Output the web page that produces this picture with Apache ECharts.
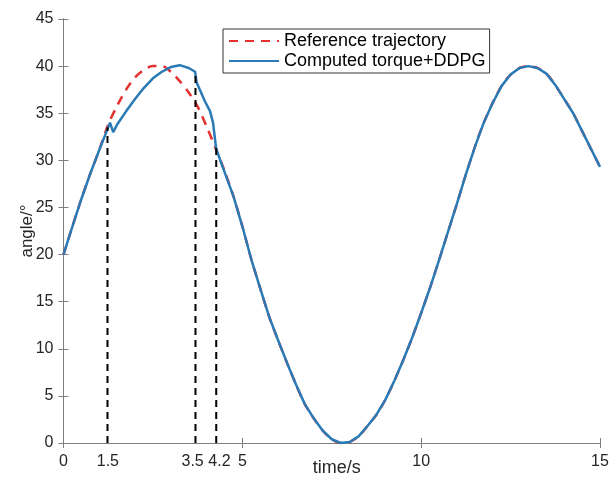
<!DOCTYPE html>
<html lang="en">
<head>
    <meta charset="UTF-8">
    <title>angle tracking</title>
    <script type="text/javascript" src="https://cdn.jsdelivr.net/npm/echarts@6/dist/echarts.min.js"></script>
    <style type="text/css">
        html, body { margin: 0; padding: 0; background: #fff; }
        #chart { width: 611px; height: 477px; }
    </style>
</head>
<body>
<div id="chart"></div>
<script type="text/javascript">
    // reference trajectory, every 0.25 s
    var refTime = [0, 0.25, 0.5, 0.75, 1, 1.25, 1.5, 1.75, 2, 2.25, 2.5, 2.75, 3, 3.25, 3.5, 3.75, 4, 4.25, 4.5, 4.75,
        5, 5.25, 5.5, 5.75, 6, 6.25, 6.5, 6.75, 7, 7.25, 7.5, 7.75, 8, 8.25, 8.5, 8.75, 9, 9.25, 9.5, 9.75,
        10, 10.25, 10.5, 10.75, 11, 11.25, 11.5, 11.75, 12, 12.25, 12.5, 12.75, 13, 13.25, 13.5, 13.75, 14, 14.25, 14.5, 14.75, 15];
    var refAngle = [20, 23.0, 25.9, 28.6, 31.1, 33.8, 35.8, 37.5, 38.8, 39.6, 40.0, 40.0, 39.4, 38.4, 37.2, 35.7, 33.6, 31.3, 28.9, 26.2,
        23.0, 19.5, 16.4, 13.4, 10.9, 8.5, 6.2, 4.1, 2.6, 1.3, 0.4, 0.0, 0.1, 0.7, 1.8, 3.0, 4.6, 6.6, 8.8, 11.2,
        13.8, 16.5, 19.4, 22.4, 25.4, 28.5, 31.4, 34.0, 36.1, 37.9, 39.1, 39.8, 40.0, 39.8, 39.2, 38.0, 36.5, 35.0, 33.1, 31.2, 29.3];

    // computed torque + DDPG response
    var ddpgTime = [0, 0.25, 0.5, 0.75, 1, 1.25, 1.3, 1.39, 1.5, 1.75, 2, 2.25, 2.5, 2.75, 3, 3.25, 3.5, 3.68, 3.72, 3.8,
        3.95, 4.1, 4.18, 4.27, 4.45, 4.75, 5, 5.25, 5.5, 5.75, 6, 6.25, 6.5, 6.75, 7, 7.25, 7.5, 7.75, 8, 8.25,
        8.5, 8.75, 9, 9.25, 9.5, 9.75, 10, 10.25, 10.5, 10.75, 11, 11.25, 11.5, 11.75, 12, 12.25, 12.5, 12.75, 13, 13.25,
        13.5, 13.75, 14, 14.25, 14.5, 14.75, 15];
    var ddpgAngle = [20, 23.0, 25.9, 28.6, 31.1, 33.5, 34.0, 33.0, 33.8, 35.2, 36.5, 37.7, 38.7, 39.4, 39.9, 40.1, 39.8, 39.4, 38.3, 37.6,
        36.3, 35.2, 34.0, 31.2, 29.3, 26.2, 23.0, 19.5, 16.4, 13.4, 10.9, 8.5, 6.2, 4.1, 2.6, 1.3, 0.4, 0.0, 0.1, 0.7,
        1.8, 3.0, 4.6, 6.6, 8.8, 11.2, 13.8, 16.5, 19.4, 22.4, 25.4, 28.5, 31.4, 34.0, 36.1, 37.9, 39.1, 39.8, 40.0, 39.8,
        39.2, 38.0, 36.5, 35.0, 33.1, 31.2, 29.3];

    // black dashed markers and the extra labels under them
    var markX = [1.23, 3.69, 4.27];
    var markTop = [33.5, 39.3, 31.4];
    var markLabelX = [1.24, 3.61, 4.36];
    var markLabelText = ['1.5', '3.5', '4.2'];
    var xTicks = [0, 5, 10, 15];

    var names = ['Reference trajectory', 'Computed torque+DDPG'];

    function pairs(xs, ys) {
        return xs.map(function (x, i) { return [x, ys[i]]; });
    }

    var axisGrey = '#7f7f7f';
    var font = 'Liberation Sans, Arial, sans-serif';

    var series = [
        {
            name: names[0], type: 'line', data: pairs(refTime, refAngle),
            smooth: 0.3, symbol: 'none', z: 2,
            lineStyle: { color: '#e3312f', width: 2.5, type: [9, 7] },
            itemStyle: { color: '#e3312f' }
        },
        {
            name: names[1], type: 'line', data: pairs(ddpgTime, ddpgAngle),
            symbol: 'none', z: 3,
            lineStyle: { color: '#2a7ab5', width: 2.5 },
            itemStyle: { color: '#2a7ab5' }
        }
    ];
    markX.forEach(function (x, i) {
        series.push({
            type: 'line', data: [[x, 0], [x, markTop[i]]], symbol: 'none', silent: true, z: 4,
            lineStyle: { color: '#000', width: 2, type: [7, 5] }
        });
    });

    var chart = echarts.init(document.getElementById('chart'));
    chart.setOption({
        animation: false,
        textStyle: { fontFamily: font },
        grid: { left: 63.5, right: 11, top: 19, bottom: 34, outerBoundsMode: 'none', containLabel: false },
        legend: {
            data: names,
            orient: 'vertical', left: 223, top: 29,
            itemWidth: 50, itemHeight: 14, itemGap: 2,
            padding: [3, 4, 3, 5],
            borderColor: '#333', borderWidth: 1, backgroundColor: '#fff',
            itemStyle: { color: 'transparent', borderWidth: 0, opacity: 0 },
            textStyle: { fontSize: 18, color: '#000', fontFamily: font }
        },
        xAxis: [
            {
                type: 'value', min: 0, max: 15, interval: 5,
                name: 'time/s', nameLocation: 'middle', nameGap: 16, nameMoveOverlap: false,
                nameTextStyle: { fontSize: 18, color: '#262626', padding: [0, 0, 0, 10] },
                axisLine: { lineStyle: { color: axisGrey } },
                axisTick: { inside: true, length: 5, customValues: xTicks, lineStyle: { color: axisGrey } },
                axisLabel: {
                    margin: 11, fontSize: 16, color: '#262626',
                    customValues: xTicks.concat(markLabelX),
                    formatter: function (v) {
                        var k = markLabelX.indexOf(v);
                        return k >= 0 ? markLabelText[k] : String(v);
                    }
                },
                splitLine: { show: false }
            },
            {
                type: 'value', min: 0, max: 15, interval: 5, position: 'top',
                axisLine: { lineStyle: { color: axisGrey } },
                axisTick: { inside: true, length: 5, lineStyle: { color: axisGrey } },
                axisLabel: { show: false }, splitLine: { show: false }
            }
        ],
        yAxis: [
            {
                type: 'value', min: 0, max: 45, interval: 5,
                name: 'angle/°', nameLocation: 'middle', nameGap: 28, nameMoveOverlap: false,
                nameTextStyle: { fontSize: 17, color: '#262626' },
                axisLine: { show: true, lineStyle: { color: axisGrey } },
                axisTick: { show: true, inside: true, length: 5, lineStyle: { color: axisGrey } },
                axisLabel: { margin: 10, fontSize: 16, color: '#262626' },
                splitLine: { show: false }
            },
            {
                type: 'value', min: 0, max: 45, interval: 5, position: 'right',
                axisLine: { show: true, lineStyle: { color: axisGrey } },
                axisTick: { show: true, inside: true, length: 5, lineStyle: { color: axisGrey } },
                axisLabel: { show: false }, splitLine: { show: false }
            }
        ],
        series: series
    });
</script>
</body>
</html>
